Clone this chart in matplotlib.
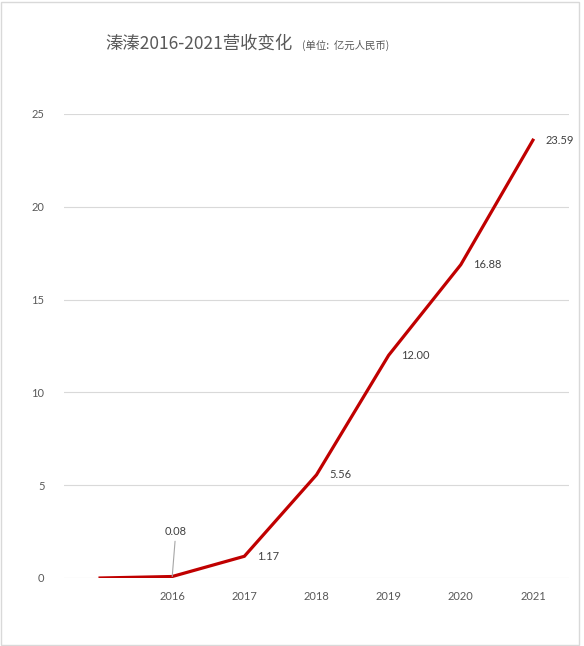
import matplotlib.pyplot as plt
from matplotlib.patches import Rectangle

years = ["", "2016", "2017", "2018", "2019", "2020", "2021"]
revenue = [0, 0.08, 1.17, 5.56, 12.00, 16.88, 23.59]
labels = ["", "0.08", "1.17", "5.56", "12.00", "16.88", "23.59"]
yticks = [0, 5, 10, 15, 20, 25]

plt.rcParams['font.family'] = ['Lato', 'Noto Sans CJK SC', 'DejaVu Sans']
cjk = ['Noto Sans CJK SC', 'DejaVu Sans']

fig = plt.figure(figsize=(5.84, 6.46), dpi=100)
ax = fig.add_axes([64 / 584, 1 - 578 / 646, 505 / 584, 464 / 646])

x = list(range(len(years)))
ax.plot(x, revenue, color='#C00000', lw=2.3, solid_joinstyle='miter', zorder=3)

# data labels, right of each point except 2016 which gets a leader line
for i, (v, t) in enumerate(zip(revenue, labels)):
    if not t:
        continue
    if i == 1:
        ax.annotate(t, xy=(i, v), xytext=(i + 0.05, 2.5), ha='center', va='center',
                    fontsize=8, color='#404040',
                    arrowprops=dict(arrowstyle='-', color='#A6A6A6', lw=0.8,
                                    shrinkA=1, shrinkB=0))
    else:
        ax.annotate(t, xy=(i, v), xytext=(9, 0), textcoords='offset points',
                    ha='left', va='center', fontsize=8, color='#404040')

ax.set_xlim(-0.5, len(years) - 0.5)
ax.set_ylim(0, 25)
ax.set_xticks(x)
ax.set_xticklabels(years)
ax.set_yticks(yticks)
ax.yaxis.grid(True, color='#D9D9D9', lw=0.8)
ax.set_axisbelow(True)
ax.tick_params(length=0, labelsize=8, labelcolor='#595959')
ax.tick_params(axis='y', pad=14)
ax.tick_params(axis='x', pad=9)
for s in ax.spines.values():
    s.set_visible(False)

title = fig.text(105 / 584, 1 - 44 / 646, "溱溱2016-2021营收变化", fontsize=12.5,
                 color='#595959', va='center', family=cjk)
fig.canvas.draw()
bb = title.get_window_extent()
fig.text((bb.x1 + 10) / 584, 1 - 45 / 646, "(单位:  亿元人民币)", fontsize=7.5,
         color='#595959', va='center', family=cjk)

fig.patches.append(Rectangle((0.002, 0.002), 0.99, 0.995, transform=fig.transFigure,
                             fill=False, edgecolor='#D9D9D9', lw=1))

fig.savefig('out.png', dpi=100)
